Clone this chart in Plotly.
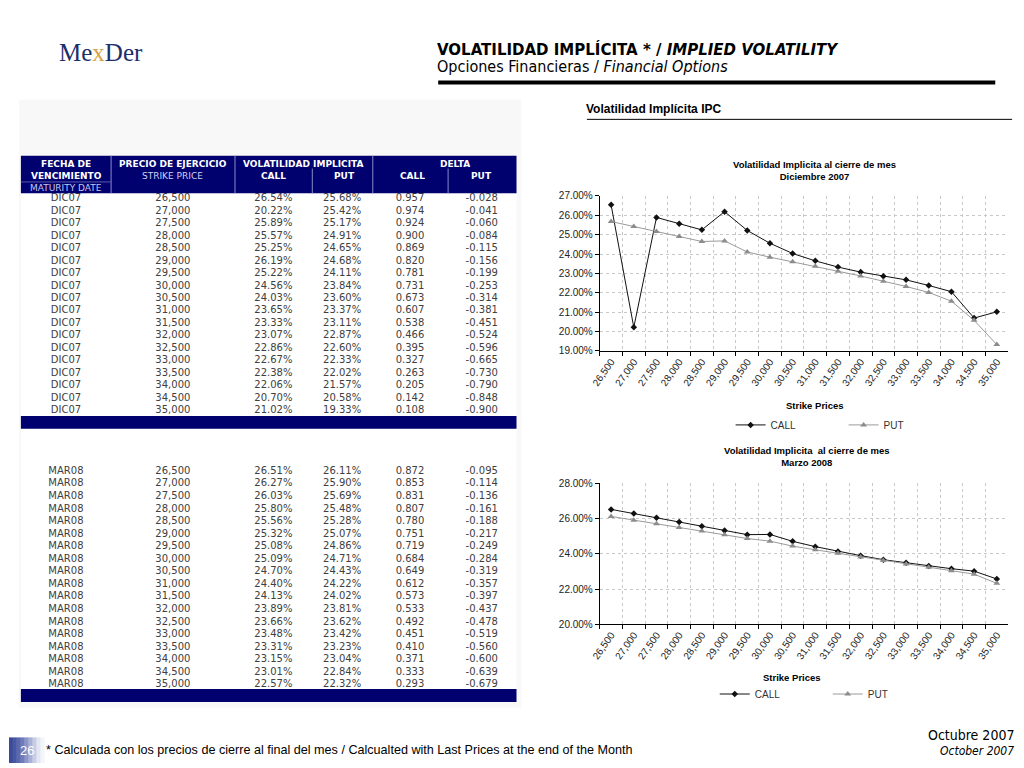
import plotly.graph_objects as go

# ---------------- data ----------------
strikes = [26500, 27000, 27500, 28000, 28500, 29000, 29500, 30000, 30500,
           31000, 31500, 32000, 32500, 33000, 33500, 34000, 34500, 35000]
strike_labels = [f"{s:,}" for s in strikes]

dic_label = "DIC07"
dic_call = [26.54, 20.22, 25.89, 25.57, 25.25, 26.19, 25.22, 24.56, 24.03,
            23.65, 23.33, 23.07, 22.86, 22.67, 22.38, 22.06, 20.70, 21.02]
dic_put = [25.68, 25.42, 25.17, 24.91, 24.65, 24.68, 24.11, 23.84, 23.60,
           23.37, 23.11, 22.87, 22.60, 22.33, 22.02, 21.57, 20.58, 19.33]
dic_dcall = [0.957, 0.974, 0.924, 0.900, 0.869, 0.820, 0.781, 0.731, 0.673,
             0.607, 0.538, 0.466, 0.395, 0.327, 0.263, 0.205, 0.142, 0.108]
dic_dput = [-0.028, -0.041, -0.060, -0.084, -0.115, -0.156, -0.199, -0.253, -0.314,
            -0.381, -0.451, -0.524, -0.596, -0.665, -0.730, -0.790, -0.848, -0.900]

mar_label = "MAR08"
mar_call = [26.51, 26.27, 26.03, 25.80, 25.56, 25.32, 25.08, 25.09, 24.70,
            24.40, 24.13, 23.89, 23.66, 23.48, 23.31, 23.15, 23.01, 22.57]
mar_put = [26.11, 25.90, 25.69, 25.48, 25.28, 25.07, 24.86, 24.71, 24.43,
           24.22, 24.02, 23.81, 23.62, 23.42, 23.23, 23.04, 22.84, 22.32]
mar_dcall = [0.872, 0.853, 0.831, 0.807, 0.780, 0.751, 0.719, 0.684, 0.649,
             0.612, 0.573, 0.533, 0.492, 0.451, 0.410, 0.371, 0.333, 0.293]
mar_dput = [-0.095, -0.114, -0.136, -0.161, -0.188, -0.217, -0.249, -0.284, -0.319,
            -0.357, -0.397, -0.437, -0.478, -0.519, -0.560, -0.600, -0.639, -0.679]

# ---------------- helpers ----------------
W, H = 1024, 768
def px(x):
    return x / W
def py(y):
    return 1 - y / H

NAVY = "#00016e"
SANS = "Liberation Sans"
VERD = "DejaVu Sans"

fig = go.Figure()
shapes = []
ann = []

def rect(x0, y0, x1, y1, color, layer="below", line=None, opacity=1):
    shapes.append(dict(type="rect", xref="paper", yref="paper",
                       x0=px(x0), x1=px(x1), y0=py(y1), y1=py(y0),
                       fillcolor=color, opacity=opacity,
                       line=dict(width=0) if line is None else line, layer=layer))

def hline(x0, x1, y, color, width):
    shapes.append(dict(type="line", xref="paper", yref="paper",
                       x0=px(x0), x1=px(x1), y0=py(y), y1=py(y),
                       line=dict(color=color, width=width), layer="above"))

def vline(x, y0, y1, color, width):
    shapes.append(dict(type="line", xref="paper", yref="paper",
                       x0=px(x), x1=px(x), y0=py(y0), y1=py(y1),
                       line=dict(color=color, width=width), layer="above"))

def text(x, y, s, size, color="#000", family=SANS, xanchor="center", yanchor="middle"):
    ann.append(dict(x=px(x), y=py(y), xref="paper", yref="paper", text=s,
                    showarrow=False, xanchor=xanchor, yanchor=yanchor,
                    font=dict(size=size, color=color, family=family)))

# ---------------- page header ----------------
text(48, 47, "Me<span style='color:#d9a24a'>x</span>Der", 25, "#1c2f6b",
     family="Liberation Serif", xanchor="left")
text(430, 44, "<b>VOLATILIDAD IMPLÍCITA * / <i>IMPLIED VOLATILITY</i></b>", 15,
     "#000", family=VERD, xanchor="left")
text(430, 61, "Opciones Financieras / <i>Financial Options</i>", 16, "#000",
     family="DejaVu Sans Condensed", xanchor="left")
hline(433, 995, 77.5, "#000", 4)

rect(10, 95, 517, 712, "#f8f8f8")
text(580, 105, "<b>Volatilidad Implícita IPC</b>", 12, "#000", xanchor="left")
hline(583, 1012, 115, "#000", 1)

# white backgrounds behind table rows
rect(12, 190, 512, 416, "#ffffff")
rect(12, 429, 512, 693, "#ffffff")

# ---------------- table header ----------------
rect(12, 152, 512, 190, NAVY, layer="above")
for xv in (103, 228, 367):
    vline(xv, 152, 190, "#8a8ac8", 1)
for xv in (306, 443):
    vline(xv, 165, 190, "#8a8ac8", 1)
hline(12, 103, 178.5, "#5a5aa8", 1)
hs = 9
text(58, 160, "<b>FECHA DE</b>", hs, "#ffffff", family=VERD)
text(58, 172, "<b>VENCIMIENTO</b>", hs, "#ffffff", family=VERD)
text(58, 184.5, "MATURITY DATE", hs, "#c6c6f0", family=VERD)
text(165, 160, "<b>PRECIO DE EJERCICIO</b>", hs, "#ffffff", family=VERD)
text(165, 172, "STRIKE PRICE", hs, "#d0d0f4", family=VERD)
text(297, 160, "<b>VOLATILIDAD IMPLICITA</b>", hs, "#ffffff", family=VERD)
text(450, 160, "<b>DELTA</b>", hs, "#ffffff", family=VERD)
for xv, s in ((267, "CALL"), (338, "PUT"), (407, "CALL"), (477, "PUT")):
    text(xv, 172, f"<b>{s}</b>", hs, "#ffffff", family=VERD)

# ---------------- tables ----------------
TEXT_SHIFT = 6

def add_table(label, call, put, dcall, dput, top, row_h):
    n = len(strikes)
    top = top - TEXT_SHIFT
    bottom = top + 1 + n * row_h + 14
    fig.add_trace(go.Table(
        domain=dict(x=[px(12), px(512)], y=[py(bottom), py(top)]),
        columnwidth=[91, 125, 78, 61, 76, 69],
        header=dict(values=[""] * 6, height=1,
                    fill_color="rgba(0,0,0,0)", line_color="rgba(0,0,0,0)",
                    font=dict(size=1)),
        cells=dict(values=[[label] * n, strike_labels,
                           [f"{v:.2f}%" for v in call],
                           [f"{v:.2f}%" for v in put],
                           [f"{v:.3f}" for v in dcall],
                           [f"{v:.3f}" for v in dput]],
                   height=row_h, align="center",
                   fill_color="rgba(0,0,0,0)", line_color="rgba(0,0,0,0)",
                   font=dict(family=VERD, size=10, color="#404040")),
    ))

add_table(dic_label, dic_call, dic_put, dic_dcall, dic_dput, 187.5, 12.45)
rect(12, 416, 512, 429, NAVY, layer="above")
add_table(mar_label, mar_call, mar_put, mar_dcall, mar_dput, 464, 12.55)
rect(12, 693, 512, 706, NAVY, layer="above")

# ---------------- charts ----------------
def add_chart(idx, call, put, legend_name):
    xa = "x" if idx == 1 else f"x{idx}"
    ya = "y" if idx == 1 else f"y{idx}"
    fig.add_trace(go.Scatter(x=strike_labels, y=call, name="CALL", mode="lines+markers",
                             line=dict(color="#111111", width=1),
                             marker=dict(symbol="diamond", size=5, color="#111111"),
                             xaxis=xa, yaxis=ya, legend=legend_name))
    fig.add_trace(go.Scatter(x=strike_labels, y=put, name="PUT", mode="lines+markers",
                             line=dict(color="#9a9a9a", width=1),
                             marker=dict(symbol="triangle-up", size=6, color="#8c8c8c"),
                             xaxis=xa, yaxis=ya, legend=legend_name))

add_chart(1, dic_call, dic_put, "legend")
add_chart(2, mar_call, mar_put, "legend2")

axis_common_x = dict(type="category", range=[-0.5, 17.5], tickson="boundaries",
                     ticks="outside", ticklen=4, tickcolor="#000",
                     showline=True, linecolor="#000", linewidth=1,
                     showgrid=True, gridcolor="#c8c8c8", griddash="dot", gridwidth=1,
                     tickangle=-55, tickfont=dict(family=SANS, size=10, color="#222"),
                     fixedrange=True)
axis_common_y = dict(ticks="outside", ticklen=4, tickcolor="#000",
                     showline=True, linecolor="#000", linewidth=1,
                     showgrid=True, gridcolor="#c8c8c8", griddash="dot", gridwidth=1,
                     zeroline=False, ticksuffix="%", tickformat=".2f",
                     tickfont=dict(family=SANS, size=10, color="#222"),
                     fixedrange=True)

fig.update_layout(
    xaxis=dict(axis_common_x, domain=[px(596), px(1008)], anchor="y"),
    yaxis=dict(axis_common_y, domain=[py(350), py(192.7)], range=[19, 27], dtick=1, anchor="x"),
    xaxis2=dict(axis_common_x, domain=[px(596), px(1008)], anchor="y2"),
    yaxis2=dict(axis_common_y, domain=[py(627.3), py(484)], range=[20, 28], dtick=2, anchor="x2"),
)

text(813, 166.5, "<b>Volatilidad Implicita al cierre de mes<br>Diciembre 2007</b>", 9.5, "#000")
text(813, 405, "<b>Strike Prices</b>", 9.5, "#000")
text(805, 457.5, "<b>Volatilidad Implicita  al cierre de mes<br>Marzo 2008</b>", 9.5, "#000")
text(790, 681, "<b>Strike Prices</b>", 9.5, "#000")

leg_common = dict(orientation="h", xanchor="left", yanchor="middle",
                  bgcolor="rgba(0,0,0,0)", font=dict(family=SANS, size=10, color="#333"),
                  entrywidth=68, entrywidthmode="pixels", itemwidth=30,
                  tracegroupgap=0)

# ---------------- footer ----------------
grad = ["#3b4a9a", "#4a58a3", "#5b68ad", "#707cb9", "#8c96c8", "#aab1d7",
        "#c8cde6", "#e3e6f3", "#f4f5fa"]
for i, c in enumerate(grad):
    rect(i * 4, 742, i * 4 + 4, 768, c)
text(18, 755, "26", 13, "#ffffff", family=SANS)
text(35, 755, "* Calculada con los precios de cierre al final del mes / Calcualted with Last Prices at the end of the Month",
     12.6, "#000", xanchor="left")
text(1016, 740, "Octubre 2007", 14, "#000", family="DejaVu Sans Condensed", xanchor="right")
text(1016, 756, "<i>October 2007</i>", 12, "#000", family="DejaVu Sans Condensed", xanchor="right")

fig.update_layout(
    width=W, height=H, margin=dict(l=0, r=0, t=0, b=0),
    paper_bgcolor="white", plot_bgcolor="white",
    showlegend=True,
    legend=dict(leg_common, x=px(728), y=py(425)),
    legend2=dict(leg_common, x=px(712), y=py(698)),
    shapes=shapes, annotations=ann,
)

fig.write_html("out.html", config={"displayModeBar": False},
               post_script="document.body.style.margin='0px';document.body.style.overflow='hidden';")
